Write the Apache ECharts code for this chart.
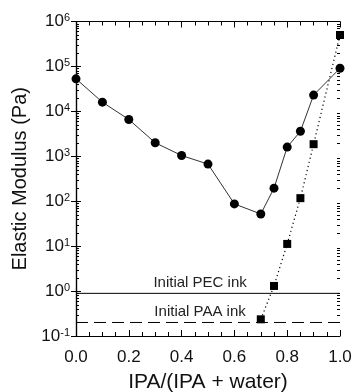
<!DOCTYPE html>
<html>
<head>
<meta charset="utf-8">
<script src="https://cdn.jsdelivr.net/npm/echarts@6/dist/echarts.min.js"></script>
<style>
html,body{margin:0;padding:0;background:#fff;}
#chart{width:354px;height:392px;}
</style>
</head>
<body>
<div id="chart"></div>
<script>
// ---- data ----
const circleX = [0, 0.1, 0.2, 0.3, 0.4, 0.5, 0.6, 0.7, 0.75, 0.8, 0.85, 0.9, 1.0];
const circleModulus = [5.3e4, 1.6e4, 6.6e3, 2.0e3, 1.04e3, 670, 87, 52, 195, 1.6e3, 3.6e3, 2.3e4, 9.1e4];
const squareX = [0.7, 0.75, 0.8, 0.85, 0.9, 1.0];
const squareModulus = [0.235, 1.3, 11.2, 117, 1.86e3, 5.0e5];
const refLineX = [0, 1];
const pecInitial = 0.89;
const paaInitial = 0.2;
const pecLabel = 'Initial PEC ink';
const paaLabel = 'Initial PAA ink';
const labelX = 0.47;
const xTicks = [0, 0.2, 0.4, 0.6, 0.8, 1.0];
const yMin = 0.1, yMax = 1e6;

const pair = (xs, ys) => xs.map((x, i) => [x, ys[i]]);

// log-spaced minor tick positions (axis decoration)
const minorTickVals = [];
for (let e = Math.round(Math.log10(yMin)); e < Math.round(Math.log10(yMax)); e++) {
  for (let m = 2; m <= 9; m++) minorTickVals.push([0, m * Math.pow(10, e)]);
}

const chart = echarts.init(document.getElementById('chart'), null, {renderer: 'canvas'});
const font = 'Liberation Sans, Arial, sans-serif';

const yLabelFmt = v => {
  const e = Math.round(Math.log10(v));
  return '{b|10}{s|' + e + '}';
};

const baseLog = {
  type: 'log', logBase: 10, min: yMin, max: yMax,
  axisLine: {show: true, lineStyle: {color: '#000', width: 1.2}},
  axisTick: {show: true, inside: true, length: 5, lineStyle: {color: '#000'}},
  minorTick: {show: false},
  splitLine: {show: false}
};
const baseX = {
  type: 'value', min: xTicks[0], max: xTicks[xTicks.length - 1], interval: 0.2,
  axisLine: {show: true, lineStyle: {color: '#000', width: 1.2}},
  axisTick: {show: true, inside: true, length: 6, lineStyle: {color: '#000'}},
  minorTick: {show: true, splitNumber: 4, length: 4, lineStyle: {color: '#000'}},
  splitLine: {show: false}
};

const option = {
  animation: false,
  backgroundColor: '#fff',
  grid: {left: 76, right: 14, top: 21.5, bottom: 56, containLabel: false, outerBoundsMode: 'none'},
  xAxis: [Object.assign({}, baseX, {
    position: 'bottom',
    name: 'IPA/(IPA + water)', nameLocation: 'middle', nameGap: 36,
    nameTextStyle: {fontFamily: font, fontSize: 21, color: '#111'},
    axisLabel: {fontFamily: font, fontSize: 17, color: '#111', margin: 13,
      formatter: v => v.toFixed(1)}
  }), Object.assign({}, baseX, {
    position: 'top',
    axisLabel: {show: false}
  })],
  yAxis: [Object.assign({}, baseLog, {
    position: 'left',
    name: 'Elastic Modulus (Pa)', nameLocation: 'middle', nameGap: 37, nameRotate: 90,
    nameTextStyle: {fontFamily: font, fontSize: 20, color: '#111'},
    axisLabel: {fontFamily: font, color: '#111', margin: 6, formatter: yLabelFmt,
      rich: {
        b: {fontFamily: font, fontSize: 17, color: '#111', lineHeight: 18},
        s: {fontFamily: font, fontSize: 11, color: '#111', verticalAlign: 'top', lineHeight: 11, padding: [0, 0, 4, 0]}
      }}
  }), Object.assign({}, baseLog, {
    position: 'right',
    axisLabel: {show: false}
  })],
  series: [
    {
      name: 'minor ticks', type: 'custom', data: minorTickVals, silent: true, clip: false,
      renderItem: (params, api) => {
        const cs = params.coordSys;
        const y = Math.round(api.coord([0, api.value(1)])[1]) + 0.5;
        return {type: 'group', children: [
          {type: 'line', shape: {x1: cs.x, y1: y, x2: cs.x + 3, y2: y}, style: {stroke: '#000', lineWidth: 1}},
          {type: 'line', shape: {x1: cs.x + cs.width - 3, y1: y, x2: cs.x + cs.width, y2: y}, style: {stroke: '#000', lineWidth: 1}}
        ]};
      }
    },
    {
      name: 'Initial PEC ink', type: 'line', data: pair(refLineX, [pecInitial, pecInitial]),
      symbol: 'none', lineStyle: {color: '#000', width: 1}, silent: true
    },
    {
      name: 'Initial PAA ink', type: 'line', data: pair(refLineX, [paaInitial, paaInitial]),
      symbol: 'none', lineStyle: {color: '#000', width: 1, type: [12, 6]}, silent: true
    },
    {
      name: 'Series ■', type: 'line', data: pair(squareX, squareModulus),
      symbol: 'rect', symbolSize: 8, clip: false,
      itemStyle: {color: '#000'},
      lineStyle: {color: '#000', width: 1.2, type: [1.2, 3]}
    },
    {
      name: 'Series ●', type: 'line', data: pair(circleX, circleModulus),
      symbol: 'circle', symbolSize: 9, clip: false,
      itemStyle: {color: '#000'},
      lineStyle: {color: '#333', width: 1}
    }
  ]
};
chart.setOption(option);

const p1 = chart.convertToPixel({gridIndex: 0}, [labelX, pecInitial]);
const p2 = chart.convertToPixel({gridIndex: 0}, [labelX, paaInitial]);
chart.setOption({
  graphic: [
    {type: 'text', x: p1[0], y: p1[1] - 3, style: {text: pecLabel, fontFamily: font, fontSize: 15, fill: '#222', align: 'center', verticalAlign: 'bottom'}},
    {type: 'text', x: p2[0], y: p2[1] - 3, style: {text: paaLabel, fontFamily: font, fontSize: 15, fill: '#222', align: 'center', verticalAlign: 'bottom'}}
  ]
});
</script>
</body>
</html>
